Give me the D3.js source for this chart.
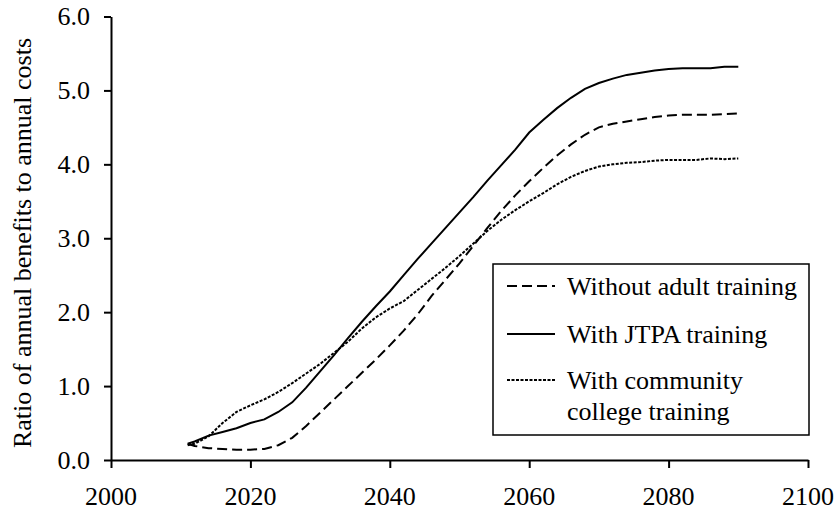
<!DOCTYPE html>
<html>
<head>
<meta charset="utf-8">
<script src="https://cdn.jsdelivr.net/npm/d3@7"></script>
<style>
  html, body { margin: 0; padding: 0; background: #fff; }
  svg { display: block; }
</style>
</head>
<body>
<svg id="chart" width="838" height="510"></svg>
<script>
// ---- data ----
const years = [2011, 2012, 2014, 2016, 2018, 2020, 2022, 2024, 2026, 2028, 2030, 2032, 2034, 2036, 2038, 2040,
  2042, 2044, 2046, 2048, 2050, 2052, 2054, 2056, 2058, 2060, 2062, 2064, 2066, 2068, 2070,
  2072, 2074, 2076, 2078, 2080, 2082, 2084, 2086, 2088, 2090];
const withoutAdult = [0.22, 0.19, 0.16, 0.15, 0.14, 0.14, 0.15, 0.20, 0.30, 0.46, 0.64, 0.82, 1.00, 1.18, 1.36, 1.55,
  1.75, 1.97, 2.22, 2.44, 2.66, 2.90, 3.14, 3.37, 3.58, 3.77, 3.95, 4.12, 4.27, 4.40, 4.50,
  4.55, 4.58, 4.61, 4.64, 4.66, 4.67, 4.67, 4.67, 4.68, 4.69];
const withJTPA = [0.22, 0.25, 0.33, 0.38, 0.43, 0.50, 0.55, 0.65, 0.78, 0.98, 1.20, 1.42, 1.65, 1.87, 2.08, 2.28,
  2.50, 2.72, 2.93, 3.14, 3.35, 3.56, 3.78, 3.99, 4.20, 4.43, 4.60, 4.76, 4.90, 5.02, 5.10,
  5.16, 5.21, 5.24, 5.27, 5.29, 5.30, 5.30, 5.30, 5.32, 5.32];
const withCommunity = [0.20, 0.22, 0.32, 0.50, 0.65, 0.74, 0.82, 0.92, 1.04, 1.17, 1.30, 1.45, 1.60, 1.78, 1.93, 2.05,
  2.15, 2.30, 2.45, 2.60, 2.76, 2.93, 3.10, 3.25, 3.38, 3.50, 3.61, 3.73, 3.83, 3.91, 3.97,
  4.00, 4.02, 4.03, 4.05, 4.06, 4.06, 4.06, 4.08, 4.07, 4.08];
const xTicks = [2000, 2020, 2040, 2060, 2080, 2100];
const yTicks = [0, 1, 2, 3, 4, 5, 6];
const seriesNames = ["Without adult training", "With JTPA training", ["With community", "college training"]];
const yTitle = "Ratio of annual benefits to annual costs";

// ---- drawing ----
const FONT = "'Liberation Serif', 'Times New Roman', Times, serif";
const svg = d3.select("#chart");
const x = d3.scaleLinear().domain([2000, 2100]).range([111, 808]);
const y = d3.scaleLinear().domain([0, 6]).range([460, 16.5]);

const styles = [
  { dash: "10,5", width: 2 },
  { dash: null, width: 2 },
  { dash: "3,1.5", width: 2 }
];
const seriesVals = [withoutAdult, withJTPA, withCommunity];

function addText(parent, str) {
  return parent.append("text").style("font-family", FONT).attr("font-size", 26).attr("fill", "#000").text(str);
}

const line = d3.line().x(d => x(d[0])).y(d => y(d[1]));
seriesVals.forEach((vals, i) => {
  const pts = years.map((yr, j) => [yr, vals[j]]);
  svg.append("path")
    .datum(pts)
    .attr("d", line)
    .attr("fill", "none")
    .attr("stroke", "#000")
    .attr("stroke-width", styles[i].width)
    .attr("stroke-dasharray", styles[i].dash);
});

// axes (lines from d3 axis; labels as own text)
const xAxis = d3.axisBottom(x).tickValues(xTicks).tickFormat("").tickSize(8).tickSizeOuter(0);
const yAxis = d3.axisLeft(y).tickValues(yTicks).tickFormat("").tickSize(7).tickSizeOuter(0);
const gx = svg.append("g").attr("transform", "translate(0,460)").call(xAxis);
const gy = svg.append("g").attr("transform", "translate(111,0)").call(yAxis);
[gx, gy].forEach(g => {
  g.select(".domain").attr("stroke", "#000").attr("stroke-width", 2);
  g.selectAll(".tick line").attr("stroke", "#000").attr("stroke-width", 2);
});
xTicks.forEach(v => {
  addText(svg, d3.format("d")(v)).attr("x", x(v)).attr("y", 505).attr("text-anchor", "middle");
});
yTicks.forEach(v => {
  addText(svg, d3.format(".1f")(v)).attr("x", 90).attr("y", y(v) + 8.5).attr("text-anchor", "end");
});

// y title
addText(svg, yTitle)
  .attr("transform", "translate(31,243) rotate(-90)")
  .attr("text-anchor", "middle");

// legend
const lg = svg.append("g");
lg.append("rect").attr("x", 493).attr("y", 264).attr("width", 316).attr("height", 171)
  .attr("fill", "#fff").attr("stroke", "#000").attr("stroke-width", 1.5);
const rowY = [286, 334, 380];
seriesNames.forEach((name, i) => {
  lg.append("line").attr("x1", 507).attr("x2", 555).attr("y1", rowY[i]).attr("y2", rowY[i])
    .attr("stroke", "#000").attr("stroke-width", styles[i].width).attr("stroke-dasharray", styles[i].dash);
  const lines = Array.isArray(name) ? name : [name];
  lines.forEach((t, k) => {
    addText(lg, t).attr("x", 567).attr("y", rowY[i] + 9 + k * 31);
  });
});
</script>
</body>
</html>
